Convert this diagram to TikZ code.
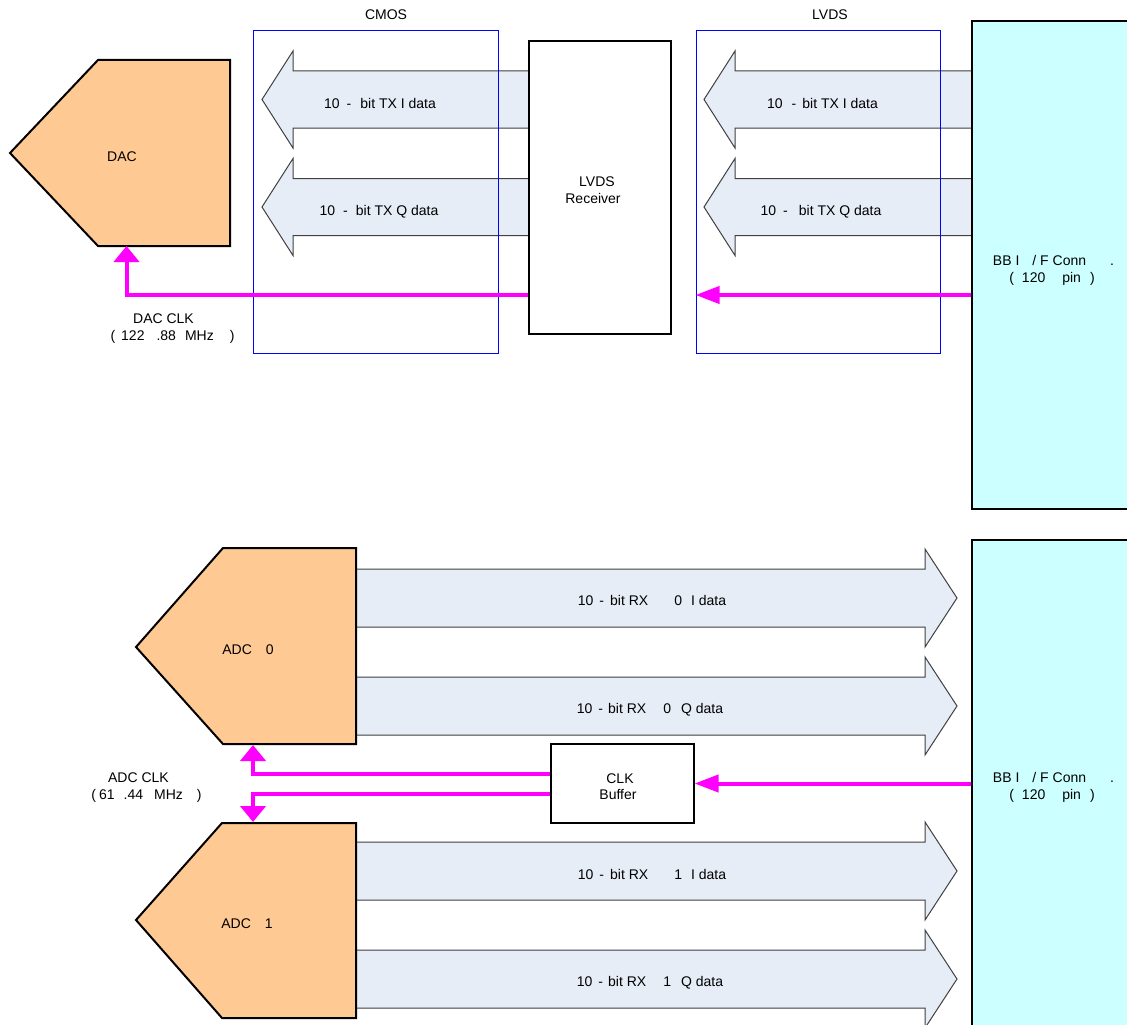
\documentclass[tikz,border=0pt]{standalone}
\usepackage{fontspec}
\setmainfont{Liberation Sans}
\usetikzlibrary{arrows.meta}
\definecolor{peach}{HTML}{FFC993}
\definecolor{busfill}{HTML}{E6EDF7}
\definecolor{conn}{HTML}{CCFFFF}
\definecolor{clkpink}{HTML}{FF00FF}
\begin{document}
\begin{tikzpicture}[x=1pt,y=-1pt,
  lbl/.style={inner sep=0pt, font=\fontsize{14pt}{17pt}\selectfont, text height=10pt, text depth=0pt},
  chip/.style={draw=black, line width=2pt, fill=peach},
  bus/.style={draw=black!75, line width=1pt, fill=busfill},
  grp/.style={draw=blue, line width=1pt, inner sep=0pt},
  blk/.style={draw=black, line width=2pt, fill=white, inner sep=0pt},
  connbox/.style={draw=black, line width=2pt, fill=conn, inner sep=0pt},
  clk/.style={draw=clkpink, line width=4pt},
  bigtip/.style={-{Triangle[width=25pt,length=16pt]}},
  smalltip/.style={-{Triangle[width=17pt,length=24pt]}}]
\useasboundingbox (0,0) rectangle (1127,1025);
\clip (0,0) rectangle (1127,1025);

% ---- TX buses (left pointing)
\draw[bus] (529,71) -- (293,71) -- (293,51) -- (262,99.5) -- (293,148) -- (293,128) -- (529,128);
\draw[bus] (529,178.5) -- (293,178.5) -- (293,158.5) -- (262,207) -- (293,255.5) -- (293,235.5) -- (529,235.5);
\draw[bus] (972,71) -- (735,71) -- (735,51) -- (704,99.5) -- (735,148) -- (735,128) -- (972,128);
\draw[bus] (972,178.5) -- (735,178.5) -- (735,158.5) -- (704,207) -- (735,255.5) -- (735,235.5) -- (972,235.5);

% ---- RX buses (right pointing)
\foreach \c in {598,706,871,979}{
  \draw[bus] (356,\c-29) -- (925,\c-29) -- (925,\c-49) -- (957,\c) -- (925,\c+49) -- (925,\c+29) -- (356,\c+29);
}

% ---- group boxes
\node[grp, minimum width=245pt, minimum height=322pt] (cmosgrp) at (375.5,192) {};
\node[grp, minimum width=244pt, minimum height=322pt] (lvdsgrp) at (818,192) {};
\node[lbl] (cmoslbl) at (386,15) {CMOS};
\node[lbl] (lvdslbl) at (830,15) {LVDS};

% ---- blocks
\node[blk, minimum width=142pt, minimum height=293pt] (recv) at (600,187.5) {};
\node[lbl] (recvl1) at (597,181) {LVDS};
\node[lbl] (recvl2) at (593,198) {Receiver};
\node[connbox, minimum width=240pt, minimum height=488pt] (bbtop) at (1092,265) {};
\node[connbox, minimum width=240pt, minimum height=560pt] (bbbot) at (1092,820) {};
\node[blk, minimum width=143pt, minimum height=79pt] (buf) at (622,783.5) {};
\node[lbl] (bufl1) at (620,778) {CLK};
\node[lbl] (bufl2) at (618,794) {Buffer};

% ---- converters
\draw[chip] (10,153) -- (98,60) -- (230,60) -- (230,246) -- (98,246) -- cycle;
\draw[chip] (136,647) -- (223,548) -- (356,548) -- (356,744) -- (223,744) -- cycle;
\draw[chip] (136,920) -- (222,823) -- (356,823) -- (356,1018) -- (222,1018) -- cycle;
\node[lbl] (daclbl) at (122,156) {DAC};
\node[lbl] (adc0lbl) at (248,649) {ADC\hspace{14pt}0};
\node[lbl] (adc1lbl) at (247,923) {ADC\hspace{14pt}1};
\coordinate (dacclk) at (126.5,246);
\coordinate (adc0clk) at (253,745);
\coordinate (adc1clk) at (253,822);
\coordinate (txclk) at (600,295);

% ---- clocks
\draw[clk, smalltip] (bbtop.west |- txclk) -- (lvdsgrp.west |- txclk);
\draw[clk, bigtip] (recv.west |- txclk) -| (dacclk);
\draw[clk, smalltip] (bbbot.west |- buf.east) -- (buf.east);
\draw[clk, bigtip] ([yshift=10pt]buf.west) -| (adc0clk);
\draw[clk, bigtip] ([yshift=-10pt]buf.west) -| (adc1clk);

% ---- bus labels
\node[lbl] (txi1) at (380,103) {10\hspace{7pt}-\hspace{9pt}bit TX I data};
\node[lbl] (txq1) at (379,210) {10\hspace{8pt}-\hspace{8pt}bit TX Q data};
\node[lbl] (txi2) at (822.5,103) {10\hspace{9pt}-\hspace{6pt}bit TX I data};
\node[lbl] (txq2) at (821,210) {10\hspace{7pt}-\hspace{11pt}bit TX Q data};
\node[lbl] (rx0i) at (652,600) {10\hspace{6pt}-\hspace{6pt}bit RX\hspace{26pt}0\hspace{9pt}I data};
\node[lbl] (rx0q) at (650,708) {10\hspace{6pt}-\hspace{5pt}bit RX\hspace{17pt}0\hspace{10pt}Q data};
\node[lbl] (rx1i) at (652,874) {10\hspace{6pt}-\hspace{6pt}bit RX\hspace{26pt}1\hspace{9pt}I data};
\node[lbl] (rx1q) at (650,981) {10\hspace{6pt}-\hspace{5pt}bit RX\hspace{17pt}1\hspace{10pt}Q data};

% ---- clock labels
\node[lbl] (dacck1) at (163.5,318) {DAC CLK};
\node[lbl] (dacck2) at (172.5,335) {(\hspace{6pt}122\hspace{12pt}.88\hspace{9pt}MHz\hspace{16pt})};
\node[lbl] (adcck1) at (138.5,777) {ADC CLK};
\node[lbl] (adcck2) at (146.5,794) {(\hspace{3pt}61\hspace{9pt}.44\hspace{11pt}MHz\hspace{14pt})};

% ---- connector labels
\node[lbl] (bbt1) at (1053.5,260) {BB I\hspace{13pt}/ F Conn\hspace{24pt}.};
\node[lbl] (bbt2) at (1052,277) {(\hspace{8pt}120\hspace{17pt}pin\hspace{9pt})};
\node[lbl] (bbb1) at (1053.5,777) {BB I\hspace{13pt}/ F Conn\hspace{24pt}.};
\node[lbl] (bbb2) at (1052,794) {(\hspace{8pt}120\hspace{17pt}pin\hspace{9pt})};
\end{tikzpicture}
\end{document}
